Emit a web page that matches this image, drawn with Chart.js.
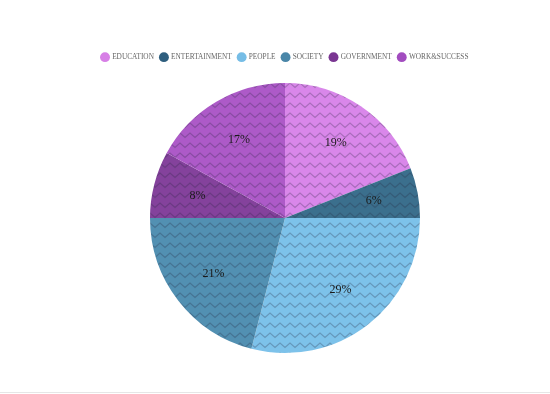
<!DOCTYPE html>
<html>
<head>
<meta charset="utf-8">
<script src="https://cdn.jsdelivr.net/npm/chart.js@4/dist/chart.umd.min.js"></script>
<style>
  html, body { margin: 0; padding: 0; background: #fff; }
  #wrap { width: 550px; height: 392px; border-bottom: 1px solid #e6e6e6; }
</style>
</head>
<body>
<div id="wrap"><canvas id="PieChart" width="550" height="392"></canvas></div>
<script>
// data
const categories = ['EDUCATION', 'ENTERTAINMENT', 'PEOPLE', 'SOCIETY', 'GOVERNMENT', 'WORK&SUCCESS'];
const shares = [19, 6, 29, 21, 8, 17];

const Colors = {
    legend: ['#d77fe6', '#2e5e7e', '#76bde6', '#4a86a8', '#7a3692', '#a24cbf'],
    fill: ['#d987ea', '#3b6f8d', '#7dc2ea', '#5290b2', '#84429c', '#ad5ac8']
};

// zigzag pattern like the one on the slices
function zigzag(base) {
    const c = document.createElement('canvas');
    c.width = 10;
    c.height = 10;
    const g = c.getContext('2d');
    g.fillStyle = base;
    g.fillRect(0, 0, 10, 10);
    g.strokeStyle = 'rgba(40, 40, 60, 0.28)';
    g.lineWidth = 1.1;
    g.beginPath();
    g.moveTo(-5, 7.5);
    g.lineTo(0, 3);
    g.lineTo(5, 7.5);
    g.lineTo(10, 3);
    g.lineTo(15, 7.5);
    g.stroke();
    return g.createPattern(c, 'repeat');
}

// percent labels inside the slices
const sliceLabels = {
    id: 'sliceLabels',
    afterDatasetsDraw(chart) {
        const ctx = chart.ctx;
        const meta = chart.getDatasetMeta(0);
        ctx.save();
        ctx.font = '12px "Liberation Serif", serif';
        ctx.fillStyle = '#1a1a1a';
        ctx.textAlign = 'center';
        ctx.textBaseline = 'middle';
        meta.data.forEach(function (arc, i) {
            const mid = (arc.startAngle + arc.endAngle) / 2;
            const r = arc.outerRadius * 0.67;
            ctx.fillText(shares[i] + '%', arc.x + Math.cos(mid) * r, arc.y + Math.sin(mid) * r);
        });
        ctx.restore();
    }
};

// more room under the legend
const legendGap = {
    id: 'legendGap',
    beforeUpdate(chart) {
        const lg = chart.legend;
        if (lg && !lg._gapDone) {
            const fit = lg.fit;
            lg.fit = function () {
                fit.call(this);
                this.height = 36;
            };
            lg._gapDone = true;
        }
    }
};

const ctx = document.getElementById('PieChart').getContext('2d');
new Chart(ctx, {
    type: 'pie',
    data: {
        labels: categories,
        datasets: [{
            data: shares,
            backgroundColor: Colors.fill.map(zigzag),
            borderWidth: 0
        }]
    },
    options: {
        responsive: false,
        animation: false,
        layout: { padding: { top: 47, left: 20, bottom: 39 } },
        plugins: {
            tooltip: { enabled: false },
            legend: {
                position: 'top',
                labels: {
                    usePointStyle: true,
                    pointStyle: 'circle',
                    boxWidth: 7,
                    boxHeight: 7,
                    padding: 6.5,
                    color: '#666',
                    font: { family: '"Liberation Serif", serif', size: 7.3 },
                    generateLabels(chart) {
                        const items = Chart.overrides.pie.plugins.legend.labels.generateLabels(chart);
                        items.forEach(function (it, i) {
                            it.fillStyle = Colors.legend[i];
                            it.strokeStyle = Colors.legend[i];
                            it.lineWidth = 0;
                        });
                        return items;
                    }
                }
            }
        }
    },
    plugins: [legendGap, sliceLabels]
});
</script>
</body>
</html>
